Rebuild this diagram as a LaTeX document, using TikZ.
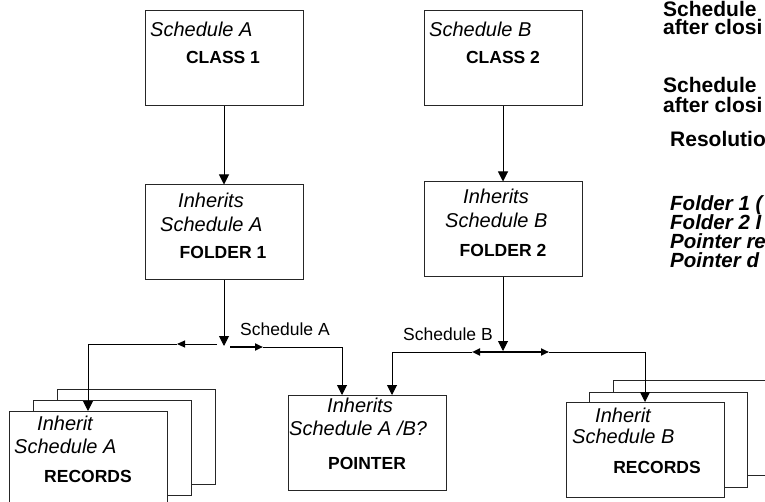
\documentclass[tikz,border=0pt]{standalone}
\usepackage{fontspec}
\setmainfont{Liberation Sans}
\usetikzlibrary{arrows.meta}

\tikzset{
  box/.style={draw=black!85, line width=1pt, fill=white, minimum width=158pt, minimum height=95pt, inner sep=0pt},
  itxt/.style={font=\fontsize{20}{22}\selectfont\itshape, anchor=base west, inner sep=0pt},
  bftxt/.style={font=\fontsize{17.5}{20}\selectfont\bfseries, anchor=base, inner sep=0pt},
  lbltxt/.style={font=\fontsize{17.5}{20}\selectfont, anchor=base west, inner sep=0pt},
  notetxt/.style={font=\fontsize{21}{22}\selectfont\bfseries, anchor=base west, inner sep=0pt},
  noteit/.style={notetxt, font=\fontsize{20.5}{22}\selectfont\bfseries\itshape},
  link/.style={line width=1pt},
  tip/.style={link, -{Triangle[length=10pt,width=10pt]}},
  midtip/.style={link, -{Triangle[length=8pt,width=7pt]}},
}

\begin{document}
\begin{tikzpicture}[x=1pt,y=-1pt]
    \useasboundingbox (0,0) rectangle (765,502);
    \clip (0,0) rectangle (765,502);

    % classes and folders
    \node[box] (class1) at (224,58.5) {};
    \node[box] (class2) at (503,58.5) {};
    \node[box] (folder1) at (224,232.5) {};
    \node[box] (folder2) at (503,229.5) {};
    \node[box] (pointer) at (367,443) {};

    % record stacks
    \node[box] (recA3) at (136,437) {};
    \node[box] (recA2) at (112,448) {};
    \node[box] (recA1) at (88,459) {};
    \node[box] (recB3) at (692,427.5) {};
    \node[box] (recB2) at (668,439.5) {};
    \node[box] (recB1) at (645,450) {};

    % box texts
    \node[itxt] (c1s) at (150,36.5) {Schedule A};
    \node[bftxt] (c1n) at (223,64) {CLASS 1};
    \node[itxt] (c2s) at (429,36.5) {Schedule B};
    \node[bftxt] (c2n) at (503,64) {CLASS 2};

    \node[itxt] (f1i) at (178,208) {Inherits};
    \node[itxt] (f1s) at (160,232) {Schedule A};
    \node[bftxt] (f1n) at (223,259) {FOLDER 1};
    \node[itxt] (f2i) at (463,204) {Inherits};
    \node[itxt] (f2s) at (445,228) {Schedule B};
    \node[bftxt] (f2n) at (503,257) {FOLDER 2};

    \node[itxt] (pi) at (327,412) {Inherits};
    \node[itxt] (ps) at (289,435) {Schedule A /B?};
    \node[bftxt] (pn) at (367,469) {POINTER};

    \node[itxt] (rAi) at (37,430) {Inherit};
    \node[itxt] (rAs) at (14,453) {Schedule A};
    \node[bftxt] (rAn) at (88,482) {RECORDS};
    \node[itxt] (rBi) at (595,422) {Inherit};
    \node[itxt] (rBs) at (572,443) {Schedule B};
    \node[bftxt] (rBn) at (657,473) {RECORDS};

    % connectors
    \draw[tip] (class1.south) -- (folder1.north);
    \draw[tip] (class2.south) -- (folder2.north);

    \coordinate (jA) at (224,346);
    \coordinate (aLs) at (217,344);
    \coordinate (aLm) at (177,344);
    \coordinate (aRs) at (230,347);
    \coordinate (aRm) at (263,347);
    \coordinate (aRe) at (342,347);
    \draw[tip] (folder1.south) -- (jA);
    \draw[midtip] (aLs) -- (aLm);
    \draw[tip] (aLm) -| (recA1.north);
    \draw[midtip, line width=2pt] (aRs) -- (aRm);
    \draw[tip] (aRm) -- (aRe) -- (pointer.north -| aRe);
    \node[lbltxt] (labA) at (240,335) {Schedule A};

    \coordinate (jB) at (503,351);
    \coordinate (bC) at (503,352);
    \coordinate (bLm) at (472,352);
    \coordinate (bLe) at (392,352);
    \coordinate (bRm) at (549,352);
    \draw[midtip, line width=2pt] (bC) -- (bLm);
    \draw[midtip, line width=2pt] (bC) -- (bRm);
    \draw[tip] (bLm) -- (bLe) -- (pointer.north -| bLe);
    \draw[tip] (bRm) -| (recB1.north);
    \draw[tip] (folder2.south) -- (jB);
    \node[lbltxt] (labB) at (403,340) {Schedule B};

    % notes
    \node[notetxt] (n1) at (663,17) {Schedule};
    \node[notetxt] (n2) at (663,35) {after closi};
    \node[notetxt] (n3) at (663,93) {Schedule};
    \node[notetxt] (n4) at (663,113) {after closi};
    \node[notetxt] (n5) at (670,147) {Resolutio};
    \node[noteit] (n6) at (670,211) {Folder 1 (};
    \node[noteit] (n7) at (670,230) {Folder 2 I};
    \node[noteit] (n8) at (670,249) {Pointer re};
    \node[noteit] (n9) at (670,268) {Pointer d};
\end{tikzpicture}
\end{document}
